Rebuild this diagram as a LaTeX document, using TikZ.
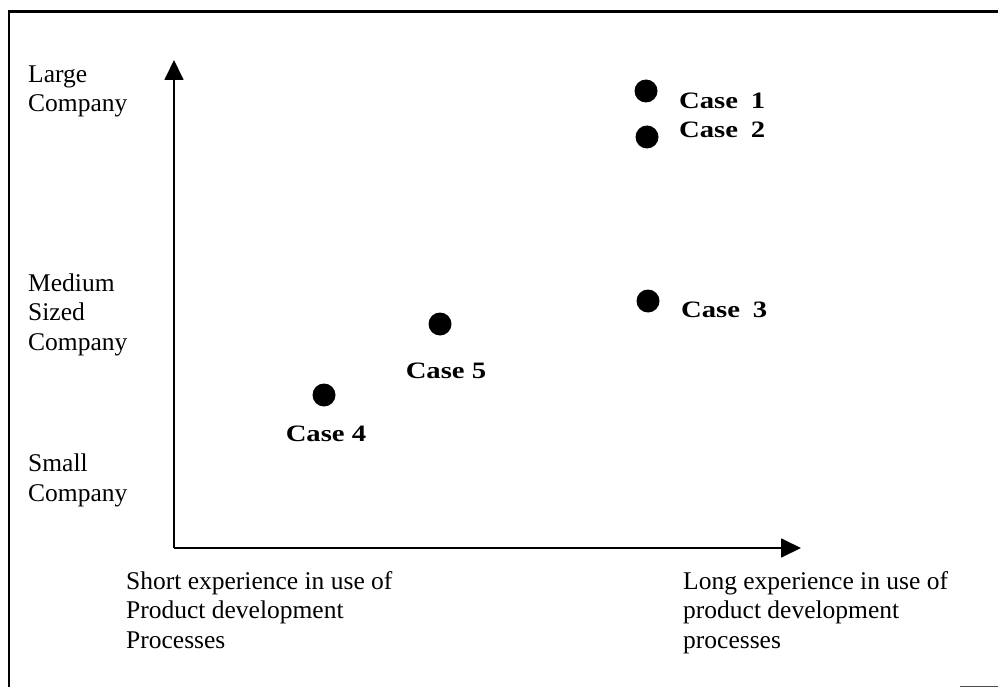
\documentclass[tikz,border=0pt]{standalone}
\usepackage{fontspec}
\setmainfont{Liberation Serif}
\usetikzlibrary{arrows.meta}
\newcommand{\widecase}[1]{\scalebox{1.22}[1]{#1}}
\begin{document}
\begin{tikzpicture}[x=1pt,y=-1pt,
  axislabel/.style={anchor=base west,inner sep=0pt,font=\fontsize{25.5}{29.5}\selectfont,align=left},
  caselabel/.style={inner sep=0pt,font=\fontsize{23.5}{28}\selectfont\bfseries},
  casedot/.style={circle,fill=black,minimum size=23pt,inner sep=0pt},
  axis/.style={line width=1.8pt,-{Triangle[width=19pt,length=20pt]}}]
\useasboundingbox (0,0) rectangle (998,687);
% frame edges
\draw[line width=3pt] (8,12) -- (998,12);
\draw[line width=2pt] (9,11) -- (9,687);
\draw[line width=1pt,black!70] (960,686) -- (998,686);
% axes
\coordinate (o) at (174,548);
\coordinate (ytip) at (174,60);
\coordinate (xtip) at (801,548);
\draw[axis] (o) -- (ytip);
\draw[axis] (o) -- (xtip);
% y-axis labels (anchored at the baseline of the last line)
\node[axislabel] (large) at (28,112) {Large\\Company};
\node[axislabel] (medium) at (28,350) {Medium\\Sized\\Company};
\node[axislabel] (small) at (28,501) {Small\\Company};
% x-axis labels
\node[axislabel] (short) at (126,648) {Short experience in use of\\Product development\\Processes};
\node[axislabel] (long) at (683,648) {Long experience in use of\\product development\\processes};
% cases
\node[casedot] (c1) at (646,91) {};
\node[casedot] (c2) at (647,137) {};
\node[casedot] (c3) at (648,301) {};
\node[casedot] (c5) at (440,324) {};
\node[casedot] (c4) at (324,395) {};
\node[caselabel,anchor=base west] (l1) at (679,109) {\widecase{Case\hspace{0.45em}1}};
\node[caselabel,anchor=base west] (l2) at (679,138) {\widecase{Case\hspace{0.45em}2}};
\node[caselabel,anchor=base west] (l3) at (681,317) {\widecase{Case\hspace{0.45em}3}};
\node[caselabel,anchor=base] (l5) at (446,378) {\widecase{Case 5}};
\node[caselabel,anchor=base] (l4) at (326,441) {\widecase{Case 4}};
\end{tikzpicture}
\end{document}
